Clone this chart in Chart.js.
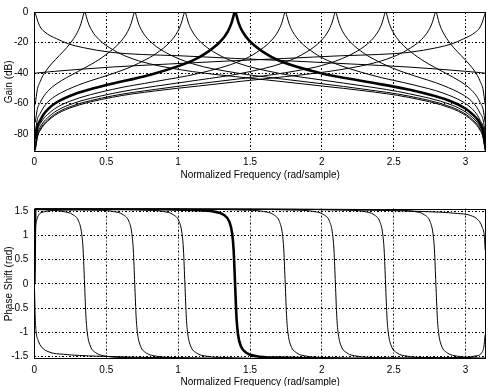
<!DOCTYPE html>
<html><head><meta charset="utf-8">
<script src="https://cdn.jsdelivr.net/npm/chart.js@4/dist/chart.umd.min.js"></script>
<style>
html,body{margin:0;padding:0;background:#fff;overflow:hidden;}
#wrap{position:relative;width:489px;height:386px;}
canvas{position:absolute;left:0;}
</style></head><body>
<div id="wrap">
<canvas id="c1" width="489" height="193" style="top:0;width:489px;height:193px"></canvas>
<canvas id="c2" width="489" height="193" style="top:193px;width:489px;height:193px"></canvas>
</div>
<script>
const xTicks = [0, 0.5, 1, 1.5, 2, 2.5, 3];
const xTickLabels = ['0', '0.5', '1', '1.5', '2', '2.5', '3'];
const gainTicks = [-80, -60, -40, -20, 0];
const gainTickLabels = ['-80', '-60', '-40', '-20', '0'];
const phaseTicks = [-1.5, -1, -0.5, 0, 0.5, 1, 1.5];
const phaseTickLabels = ['-1.5', '-1', '-0.5', '0', '0.5', '1', '1.5'];
const boldIndex = 4;

// Gain (dB) curves, filters 0..9
const gain0X = [0, 0.006, 0.015, 0.027, 0.045, 0.074, 0.11, 0.155, 0.236, 0.34, 0.527, 0.75, 1.0, 1.4, 1.78, 2.2, 2.6, 3.0, 3.1356];
const gain0Y = [0, -0.9, -3.5, -7, -10.5, -13.2, -15.5, -17.5, -20.8, -23.3, -26.3, -27.8, -28.6, -30.4, -32, -34, -36, -38.8, -40];
const gain1X = [0.006, 0.02, 0.04, 0.06, 0.1, 0.149, 0.249, 0.299, 0.324, 0.337, 0.344, 0.349, 0.354, 0.361, 0.374, 0.399, 0.449, 0.549, 0.65, 0.8, 1.1, 1.4, 1.7, 2.0, 2.3, 2.6, 2.9, 3.0, 3.05, 3.08, 3.1, 3.12, 3.1356];
const gain1Y = [-60.50, -50.91, -45.50, -41.53, -36.03, -30.88, -20.54, -13.29, -7.65, -3.25, -0.77, 0, -0.56, -2.86, -6.97, -12.03, -18.02, -24.86, -29.45, -33.84, -38.98, -42.31, -45.30, -48.42, -51.62, -55.80, -62.99, -67.67, -71.46, -74.41, -77.32, -81.71, -90.64];
const gain2X = [0.006, 0.02, 0.04, 0.06, 0.1, 0.15, 0.3, 0.4, 0.498, 0.598, 0.648, 0.673, 0.686, 0.693, 0.698, 0.703, 0.710, 0.723, 0.748, 0.798, 0.898, 1.1, 1.4, 1.7, 2.0, 2.3, 2.6, 2.9, 3.0, 3.05, 3.08, 3.1, 3.12, 3.1356];
const gain2Y = [-72.27, -63.66, -59.36, -55.81, -51.17, -47.22, -39.08, -33.95, -27.89, -19.60, -12.88, -7.44, -3.13, -0.71, 0, -0.62, -2.97, -7.16, -12.34, -18.53, -25.69, -33.84, -39.78, -43.55, -46.93, -50.62, -54.92, -62.17, -66.85, -70.64, -73.59, -76.51, -80.90, -89.83];
const gain3X = [0.006, 0.02, 0.04, 0.06, 0.1, 0.15, 0.3, 0.5, 0.65, 0.8, 0.847, 0.947, 0.997, 1.022, 1.035, 1.042, 1.047, 1.052, 1.059, 1.072, 1.097, 1.147, 1.247, 1.4, 1.7, 2.0, 2.3, 2.6, 2.9, 3.0, 3.05, 3.08, 3.1, 3.12, 3.1356];
const gain3Y = [-78.87, -70.46, -66.48, -62.94, -58.36, -54.74, -48.01, -41.68, -36.74, -29.91, -27.16, -19.28, -12.73, -7.37, -3.09, -0.68, 0, -0.64, -3.01, -7.23, -12.46, -18.77, -26.11, -32.95, -40.09, -44.52, -48.54, -53.36, -60.72, -65.42, -69.22, -72.17, -75.09, -79.48, -88.41];
const gain4X = [0.006, 0.02, 0.04, 0.06, 0.1, 0.15, 0.3, 0.5, 0.8, 1.1, 1.196, 1.296, 1.346, 1.371, 1.384, 1.391, 1.396, 1.401, 1.408, 1.421, 1.446, 1.496, 1.596, 1.7, 2.0, 2.3, 2.6, 2.9, 3.0, 3.05, 3.08, 3.1, 3.12, 3.1356];
const gain4Y = [-83.23, -74.92, -71.04, -67.51, -63.06, -59.38, -53.00, -47.79, -41.20, -31.79, -26.75, -19.09, -12.63, -7.31, -3.06, -0.67, 0, -0.66, -3.04, -7.28, -12.55, -18.94, -26.43, -31.73, -40.19, -45.48, -50.67, -58.54, -63.28, -67.08, -70.04, -72.95, -77.35, -86.28];
const gain5X = [0.006, 0.0216, 0.0416, 0.0616, 0.0916, 0.1416, 0.2416, 0.5416, 0.8416, 1.1416, 1.4416, 1.5456, 1.6456, 1.6956, 1.7206, 1.7336, 1.7406, 1.7456, 1.7506, 1.7576, 1.7706, 1.7956, 1.8456, 1.9456, 2.0416, 2.3416, 2.6416, 2.8416, 2.9916, 3.0416, 3.0816, 3.1016, 3.1216, 3.1356];
const gain5Y = [-86.28, -77.35, -72.95, -70.04, -67.08, -63.28, -58.54, -50.67, -45.48, -40.19, -31.73, -26.43, -18.94, -12.55, -7.28, -3.04, -0.66, 0, -0.67, -3.06, -7.31, -12.63, -19.09, -26.75, -31.79, -41.20, -47.79, -53.00, -59.38, -63.06, -67.51, -71.04, -74.92, -83.23];
const gain6X = [0.006, 0.0216, 0.0416, 0.0616, 0.0916, 0.1416, 0.2416, 0.5416, 0.8416, 1.1416, 1.4416, 1.7416, 1.8946, 1.9946, 2.0446, 2.0696, 2.0826, 2.0896, 2.0946, 2.0996, 2.1066, 2.1196, 2.1446, 2.1946, 2.2946, 2.3416, 2.4916, 2.6416, 2.8416, 2.9916, 3.0416, 3.0816, 3.1016, 3.1216, 3.1356];
const gain6Y = [-88.41, -79.48, -75.09, -72.17, -69.22, -65.42, -60.72, -53.36, -48.54, -44.52, -40.09, -32.95, -26.11, -18.77, -12.46, -7.23, -3.01, -0.64, 0, -0.68, -3.09, -7.37, -12.73, -19.28, -27.16, -29.91, -36.74, -41.68, -48.01, -54.74, -58.36, -62.94, -66.48, -70.46, -78.87];
const gain7X = [0.006, 0.0216, 0.0416, 0.0616, 0.0916, 0.1416, 0.2416, 0.5416, 0.8416, 1.1416, 1.4416, 1.7416, 2.0416, 2.2436, 2.3436, 2.3936, 2.4186, 2.4316, 2.4386, 2.4436, 2.4486, 2.4556, 2.4686, 2.4936, 2.5436, 2.6436, 2.7416, 2.8416, 2.9916, 3.0416, 3.0816, 3.1016, 3.1216, 3.1356];
const gain7Y = [-89.83, -80.90, -76.51, -73.59, -70.64, -66.85, -62.17, -54.92, -50.62, -46.93, -43.55, -39.78, -33.84, -25.69, -18.53, -12.34, -7.16, -2.97, -0.62, 0, -0.71, -3.13, -7.44, -12.88, -19.60, -27.89, -33.95, -39.08, -47.22, -51.17, -55.81, -59.36, -63.66, -72.27];
const gain8X = [0.006, 0.0216, 0.0416, 0.0616, 0.0916, 0.1416, 0.2416, 0.5416, 0.8416, 1.1416, 1.4416, 1.7416, 2.0416, 2.3416, 2.4916, 2.5926, 2.6926, 2.7426, 2.7676, 2.7806, 2.7876, 2.7926, 2.7976, 2.8046, 2.8176, 2.8426, 2.8926, 2.9926, 3.0416, 3.0816, 3.1016, 3.1216, 3.1356];
const gain8Y = [-90.64, -81.71, -77.32, -74.41, -71.46, -67.67, -62.99, -55.80, -51.62, -48.42, -45.30, -42.31, -38.98, -33.84, -29.45, -24.86, -18.02, -12.03, -6.97, -2.86, -0.56, 0, -0.77, -3.25, -7.65, -13.29, -20.54, -30.88, -36.03, -41.53, -45.50, -50.91, -60.50];
const gain9X = [0.006, 0.1416, 0.5416, 0.9416, 1.3616, 1.7416, 2.1416, 2.3916, 2.6146, 2.8016, 2.9056, 2.9866, 3.0316, 3.0676, 3.0966, 3.1146, 3.1266, 3.1356, 3.1416];
const gain9Y = [-40, -38.8, -36, -34, -32, -30.4, -28.6, -27.8, -26.3, -23.3, -20.8, -17.5, -15.5, -13.2, -10.5, -7, -3.5, -0.9, 0];

// Phase (rad) curves, filters 0..9
const phase0X = [0, 0.006, 0.011, 0.027, 0.05, 0.109, 0.2, 0.434, 1.0, 2.0, 2.9, 3.0796, 3.1116, 3.1266, 3.1356];
const phase0Y = [0, -0.7, -0.96, -1.17, -1.30, -1.41, -1.45, -1.49, -1.525, -1.54, -1.52, -1.48, -1.42, -1.30, -1.05];
const phase1X = [0, 0.006, 0.049, 0.199, 0.269, 0.309, 0.329, 0.339, 0.349, 0.359, 0.369, 0.389, 0.429, 0.499, 0.649, 1.0, 2.0, 3.1356];
const phase1Y = [0, 1.545, 1.535, 1.49, 1.423, 1.281, 1.033, 0.698, 0, -0.698, -1.033, -1.281, -1.423, -1.49, -1.52, -1.54, -1.545, -1.545];
const phase2X = [0, 0.006, 0.1, 0.398, 0.548, 0.618, 0.658, 0.678, 0.688, 0.698, 0.708, 0.718, 0.738, 0.778, 0.848, 0.998, 1.5, 2.5, 3.1356];
const phase2Y = [0, 1.545, 1.545, 1.52, 1.49, 1.423, 1.281, 1.033, 0.698, 0, -0.698, -1.033, -1.281, -1.423, -1.49, -1.52, -1.54, -1.545, -1.545];
const phase3X = [0, 0.006, 0.4, 0.747, 0.897, 0.967, 1.007, 1.027, 1.037, 1.047, 1.057, 1.067, 1.087, 1.127, 1.197, 1.347, 2.0, 3.1356];
const phase3Y = [0, 1.545, 1.545, 1.52, 1.49, 1.423, 1.281, 1.033, 0.698, 0, -0.698, -1.033, -1.281, -1.423, -1.49, -1.52, -1.545, -1.545];
const phase4X = [0, 0.006, 0.7, 1.096, 1.246, 1.316, 1.356, 1.376, 1.386, 1.396, 1.406, 1.416, 1.436, 1.476, 1.546, 1.696, 2.4, 3.1356];
const phase4Y = [0, 1.545, 1.545, 1.52, 1.49, 1.423, 1.281, 1.033, 0.698, 0, -0.698, -1.033, -1.281, -1.423, -1.49, -1.52, -1.545, -1.545];
const phase5X = [0, 0.006, 0.8, 1.445, 1.595, 1.665, 1.705, 1.725, 1.735, 1.745, 1.755, 1.765, 1.785, 1.825, 1.895, 2.045, 2.6, 3.1356];
const phase5Y = [0, 1.545, 1.545, 1.52, 1.49, 1.423, 1.281, 1.033, 0.698, 0, -0.698, -1.033, -1.281, -1.423, -1.49, -1.52, -1.545, -1.545];
const phase6X = [0, 0.006, 1.0, 1.794, 1.944, 2.014, 2.054, 2.074, 2.084, 2.094, 2.104, 2.114, 2.134, 2.174, 2.244, 2.394, 2.8, 3.1356];
const phase6Y = [0, 1.545, 1.545, 1.52, 1.49, 1.423, 1.281, 1.033, 0.698, 0, -0.698, -1.033, -1.281, -1.423, -1.49, -1.52, -1.545, -1.545];
const phase7X = [0, 0.006, 1.2, 2.143, 2.293, 2.363, 2.403, 2.423, 2.433, 2.443, 2.453, 2.463, 2.483, 2.523, 2.593, 2.743, 3.0, 3.1356];
const phase7Y = [0, 1.545, 1.545, 1.52, 1.49, 1.423, 1.281, 1.033, 0.698, 0, -0.698, -1.033, -1.281, -1.423, -1.49, -1.52, -1.54, -1.545];
const phase8X = [0, 0.006, 1.4, 2.493, 2.643, 2.713, 2.753, 2.773, 2.783, 2.793, 2.803, 2.813, 2.833, 2.873, 2.943, 3.093, 3.1356];
const phase8Y = [0, 1.545, 1.545, 1.52, 1.49, 1.423, 1.281, 1.033, 0.698, 0, -0.698, -1.033, -1.281, -1.423, -1.49, -1.535, -1.545];
const phase9X = [0, 0.006, 0.015, 0.03, 0.062, 0.2, 1.1416, 2.1416, 2.7076, 2.9416, 3.0326, 3.0916, 3.1146, 3.1306, 3.1356];
const phase9Y = [0, 1.05, 1.30, 1.42, 1.48, 1.52, 1.54, 1.525, 1.49, 1.45, 1.41, 1.30, 1.17, 0.96, 0.7];

const gainSeries = [[gain0X,gain0Y],[gain1X,gain1Y],[gain2X,gain2Y],[gain3X,gain3Y],[gain4X,gain4Y],[gain5X,gain5Y],[gain6X,gain6Y],[gain7X,gain7Y],[gain8X,gain8Y],[gain9X,gain9Y]];
const phaseSeries = [[phase0X,phase0Y],[phase1X,phase1Y],[phase2X,phase2Y],[phase3X,phase3Y],[phase4X,phase4Y],[phase5X,phase5Y],[phase6X,phase6Y],[phase7X,phase7Y],[phase8X,phase8Y],[phase9X,phase9Y]];

const FONT = {family: '"Liberation Sans", Arial, Helvetica, sans-serif', size: 10};

const boxPlugin = {
  id: 'box',
  afterDraw(chart) {
    const {ctx, chartArea: a} = chart;
    ctx.save();
    ctx.strokeStyle = '#000';
    ctx.lineWidth = 1;
    const l = Math.round(a.left) + 0.5, t = Math.round(a.top) + 0.5;
    const r = Math.round(a.right) - 0.5, b = Math.round(a.bottom) - 0.5;
    ctx.strokeRect(l, t, r - l, b - t);
    ctx.restore();
  }
};

function makeDatasets(series) {
  return series.map(([xs, ys], i) => ({
    data: xs.map((x, j) => ({x: x, y: ys[j]})),
    borderColor: '#000',
    borderWidth: i === boldIndex ? 2.6 : 1,
    pointRadius: 0,
    fill: false,
    cubicInterpolationMode: 'monotone',
    order: i === boldIndex ? 0 : 1
  }));
}

function makeChart(id, series, yMin, yMax, yTicks, yLabels, yTitle, geo) {
  return new Chart(document.getElementById(id), {
    type: 'line',
    data: {datasets: makeDatasets(series)},
    plugins: [boxPlugin],
    options: {
      responsive: false,
      animation: false,
      events: [],
      layout: {autoPadding: false, padding: {left: 0, right: geo.right, top: geo.top, bottom: 0}},
      plugins: {legend: {display: false}, tooltip: {enabled: false}},
      scales: {
        x: {
          type: 'linear', min: 0, max: Math.PI,
          afterBuildTicks: s => { s.ticks = xTicks.map(v => ({value: v})); },
          afterFit: s => { s.height = geo.xH; },
          ticks: {font: FONT, color: '#000', padding: 5, maxRotation: 0, autoSkip: false,
                  callback: (v, i) => xTickLabels[i]},
          grid: {color: '#000', lineWidth: 1, drawTicks: false},
          border: {display: false, dash: [2, 2, 1, 2]},
          title: {display: true, text: 'Normalized Frequency (rad/sample)', font: FONT, color: '#000',
                  padding: {top: 0, bottom: geo.xTitlePad}}
        },
        y: {
          type: 'linear', min: yMin, max: yMax,
          afterBuildTicks: s => { s.ticks = yTicks.map(v => ({value: v})); },
          afterFit: s => { s.width = geo.yW; },
          ticks: {font: FONT, color: '#000', padding: 6, autoSkip: false,
                  callback: (v, i) => yLabels[i]},
          grid: {color: '#000', lineWidth: 1, drawTicks: false},
          border: {display: false, dash: [2, 2, 1, 2]},
          title: {display: true, text: yTitle, font: FONT, color: '#000', padding: {top: 3, bottom: 0}}
        }
      }
    }
  });
}

makeChart('c1', gainSeries, -91.4, 0, gainTicks, gainTickLabels, 'Gain (dB)',
  {right: 3, top: 3.7, xH: 41.3, yW: 34.4, xTitlePad: 11.5});
makeChart('c2', phaseSeries, -1.55, 1.55, phaseTicks, phaseTickLabels, 'Phase Shift (rad)',
  {right: 3, top: 15.6, xH: 26.9, yW: 34.4, xTitlePad: -2});
</script>
</body></html>
